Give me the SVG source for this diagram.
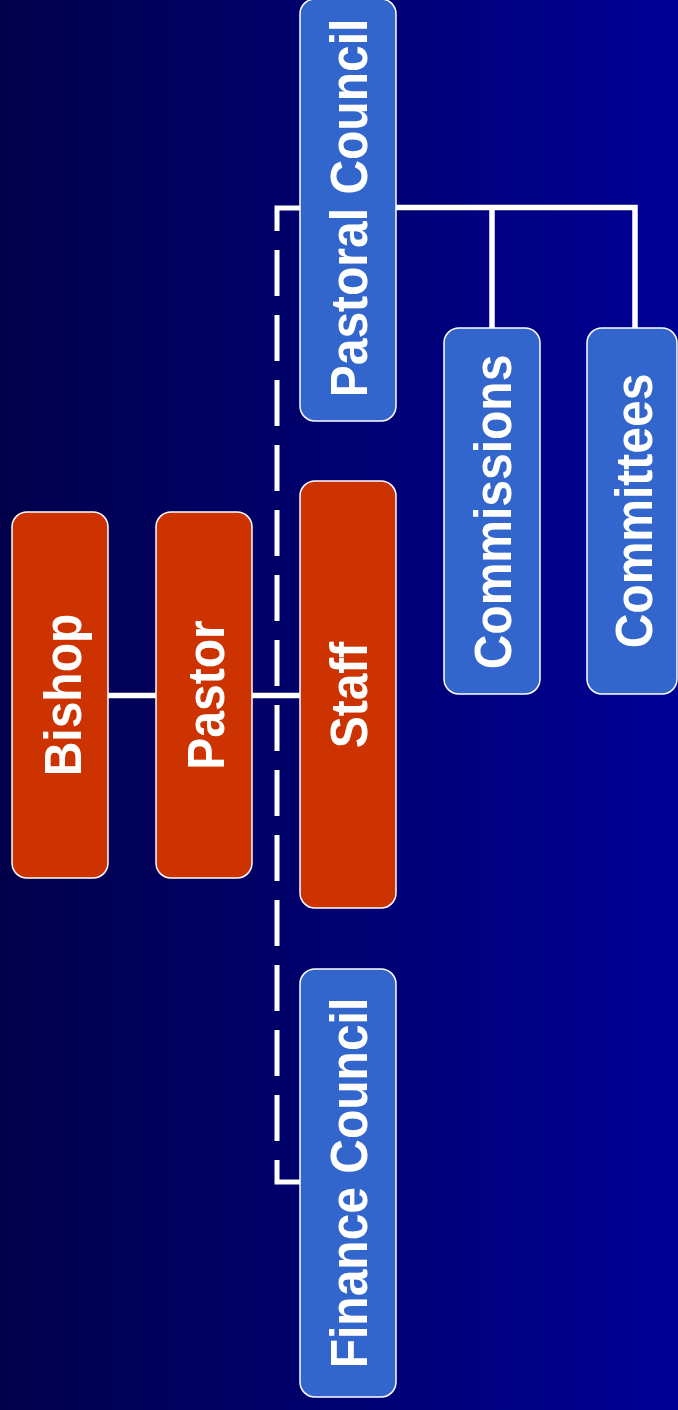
<svg xmlns="http://www.w3.org/2000/svg" width="678" height="1410" viewBox="0 0 678 1410">
<defs>
<linearGradient id="bg" x1="0" y1="0" x2="1" y2="0">
<stop offset="0" stop-color="#00004a"/>
<stop offset="1" stop-color="#000096"/>
</linearGradient>
<style>
.red{fill:#cc3300;stroke:#ffffff;stroke-width:1.5}
.blue{fill:#3366cc;stroke:#ffffff;stroke-width:1.5}
.lbl{font-family:"Liberation Sans",Arial,Helvetica,sans-serif;font-weight:bold;font-size:48px;fill:#ffffff;text-anchor:middle}
.ln{fill:none;stroke:#ffffff;stroke-width:5.5}
.dash{fill:none;stroke:#ffffff;stroke-width:5;stroke-dasharray:46 19}
</style>
</defs>
<rect x="0" y="0" width="678" height="1410" fill="url(#bg)"/>
<g id="connectors">
<path class="dash" d="M300,208 H277 V1182 H300"/>
<path class="ln" d="M108,695.5 H156"/>
<path class="ln" d="M252,695.5 H300"/>
<path class="ln" d="M396,207.5 H635 V329 M492,207.5 V329"/>
</g>
<g id="bishop">
<rect class="red" x="12" y="512" width="96" height="366" rx="15"/>
<text class="lbl" transform="translate(81,695) rotate(-90) scale(1,1.08)">Bishop</text>
</g>
<g id="pastor">
<rect class="red" x="156" y="512" width="96" height="366" rx="15"/>
<text class="lbl" transform="translate(224,695) rotate(-90) scale(1,1.08)">Pastor</text>
</g>
<g id="staff">
<rect class="red" x="300" y="481" width="96" height="427" rx="15"/>
<text class="lbl" transform="translate(367,695) rotate(-90) scale(1,1.08)">Staff</text>
</g>
<g id="pastoral-council">
<rect class="blue" x="300" y="-1" width="96" height="422" rx="15"/>
<text class="lbl" transform="translate(367,208) rotate(-90) scale(1,1.08)">Pastoral Council</text>
</g>
<g id="finance-council">
<rect class="blue" x="300" y="969" width="96" height="428" rx="15"/>
<text class="lbl" transform="translate(367,1183) rotate(-90) scale(1,1.08)">Finance Council</text>
</g>
<g id="commissions">
<rect class="blue" x="444" y="328" width="96" height="366" rx="15"/>
<text class="lbl" transform="translate(511,512) rotate(-90) scale(1,1.08)">Commissions</text>
</g>
<g id="committees">
<rect class="blue" x="587" y="328" width="90" height="366" rx="15"/>
<text class="lbl" transform="translate(652,511) rotate(-90) scale(1,1.08)">Committees</text>
</g>
</svg>
